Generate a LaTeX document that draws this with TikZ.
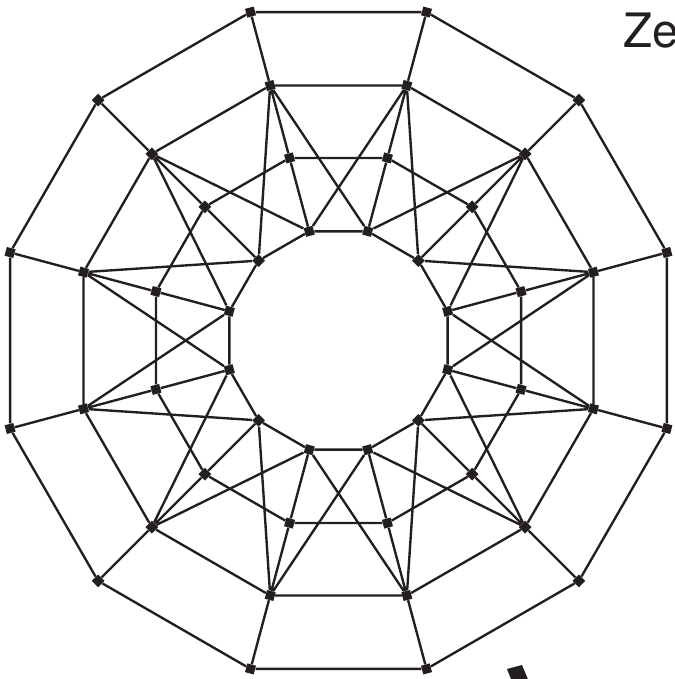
\documentclass[tikz,border=0pt]{standalone}
\usepackage{fontspec}
\newfontfamily\labelfont{TeX Gyre Heros}
\definecolor{inkblack}{RGB}{35, 31, 32}
\usepackage{tikz}
\usetikzlibrary{shapes, calc}

\tikzset{
	vtx/.style={rectangle, fill=inkblack, draw=none, inner sep=0pt, minimum size=0.18cm, rotate=#1},
	edge/.style={draw=inkblack, line width=1.35pt}
}

\begin{document}
\begin{tikzpicture}[x=0.02cm, y=0.02cm]
	\useasboundingbox (-338.5,-338.5) rectangle (335.5,340.5);
	\clip (-338.5,-338.5) rectangle (335.5,340.5);
	
	% outer ring
	\node[vtx=15] (a1) at (15:340) {};
	\node[vtx=45] (a2) at (45:340) {};
	\node[vtx=75] (a3) at (75:340) {};
	\node[vtx=105] (a4) at (105:340) {};
	\node[vtx=135] (a5) at (135:340) {};
	\node[vtx=165] (a6) at (165:340) {};
	\node[vtx=195] (a7) at (195:340) {};
	\node[vtx=225] (a8) at (225:340) {};
	\node[vtx=255] (a9) at (255:340) {};
	\node[vtx=285] (a10) at (285:340) {};
	\node[vtx=315] (a11) at (315:340) {};
	\node[vtx=345] (a12) at (345:340) {};
	
	% second ring
	\node[vtx=15] (b1) at (15:264) {};
	\node[vtx=45] (b2) at (45:264) {};
	\node[vtx=75] (b3) at (75:264) {};
	\node[vtx=105] (b4) at (105:264) {};
	\node[vtx=135] (b5) at (135:264) {};
	\node[vtx=165] (b6) at (165:264) {};
	\node[vtx=195] (b7) at (195:264) {};
	\node[vtx=225] (b8) at (225:264) {};
	\node[vtx=255] (b9) at (255:264) {};
	\node[vtx=285] (b10) at (285:264) {};
	\node[vtx=315] (b11) at (315:264) {};
	\node[vtx=345] (b12) at (345:264) {};
	
	% third ring
	\node[vtx=15] (c1) at (15:189) {};
	\node[vtx=45] (c2) at (45:189) {};
	\node[vtx=75] (c3) at (75:189) {};
	\node[vtx=105] (c4) at (105:189) {};
	\node[vtx=135] (c5) at (135:189) {};
	\node[vtx=165] (c6) at (165:189) {};
	\node[vtx=195] (c7) at (195:189) {};
	\node[vtx=225] (c8) at (225:189) {};
	\node[vtx=255] (c9) at (255:189) {};
	\node[vtx=285] (c10) at (285:189) {};
	\node[vtx=315] (c11) at (315:189) {};
	\node[vtx=345] (c12) at (345:189) {};
	
	% inner ring
	\node[vtx=15] (d1) at (15:113) {};
	\node[vtx=45] (d2) at (45:113) {};
	\node[vtx=75] (d3) at (75:113) {};
	\node[vtx=105] (d4) at (105:113) {};
	\node[vtx=135] (d5) at (135:113) {};
	\node[vtx=165] (d6) at (165:113) {};
	\node[vtx=195] (d7) at (195:113) {};
	\node[vtx=225] (d8) at (225:113) {};
	\node[vtx=255] (d9) at (255:113) {};
	\node[vtx=285] (d10) at (285:113) {};
	\node[vtx=315] (d11) at (315:113) {};
	\node[vtx=345] (d12) at (345:113) {};
	
	% rings
	\draw[edge] (a1) -- (a2) -- (a3) -- (a4) -- (a5) -- (a6) -- (a7) -- (a8) -- (a9) -- (a10) -- (a11) -- (a12) -- (a1);
	\draw[edge] (b1) -- (b2) -- (b3) -- (b4) -- (b5) -- (b6) -- (b7) -- (b8) -- (b9) -- (b10) -- (b11) -- (b12) -- (b1);
	\draw[edge] (c1) -- (c2) -- (c3) -- (c4) -- (c5) -- (c6) -- (c7) -- (c8) -- (c9) -- (c10) -- (c11) -- (c12) -- (c1);
	\draw[edge] (d1) -- (d2) -- (d3) -- (d4) -- (d5) -- (d6) -- (d7) -- (d8) -- (d9) -- (d10) -- (d11) -- (d12) -- (d1);
	
	% spokes and cross links
	\draw[edge] (a1) -- (b1) -- (c1) -- (d1) (b1) -- (d12) (b1) -- (d2);
	\draw[edge] (a2) -- (b2) -- (c2) -- (d2) (b2) -- (d1) (b2) -- (d3);
	\draw[edge] (a3) -- (b3) -- (c3) -- (d3) (b3) -- (d2) (b3) -- (d4);
	\draw[edge] (a4) -- (b4) -- (c4) -- (d4) (b4) -- (d3) (b4) -- (d5);
	\draw[edge] (a5) -- (b5) -- (c5) -- (d5) (b5) -- (d4) (b5) -- (d6);
	\draw[edge] (a6) -- (b6) -- (c6) -- (d6) (b6) -- (d5) (b6) -- (d7);
	\draw[edge] (a7) -- (b7) -- (c7) -- (d7) (b7) -- (d6) (b7) -- (d8);
	\draw[edge] (a8) -- (b8) -- (c8) -- (d8) (b8) -- (d7) (b8) -- (d9);
	\draw[edge] (a9) -- (b9) -- (c9) -- (d9) (b9) -- (d8) (b9) -- (d10);
	\draw[edge] (a10) -- (b10) -- (c10) -- (d10) (b10) -- (d9) (b10) -- (d11);
	\draw[edge] (a11) -- (b11) -- (c11) -- (d11) (b11) -- (d10) (b11) -- (d12);
	\draw[edge] (a12) -- (b12) -- (c12) -- (d12) (b12) -- (d11) (b12) -- (d1);
	
	% cut-off pieces at the margins
	\node[anchor=base west, inner sep=0pt, text=inkblack, font=\labelfont\fontsize{27}{31}\selectfont] (tag) at (285,293) {Ze};
	\fill[inkblack] (168.5,-328.5) -- (183.5,-324.5) -- (192,-345) -- (175,-345) -- cycle;
\end{tikzpicture}
\end{document}
